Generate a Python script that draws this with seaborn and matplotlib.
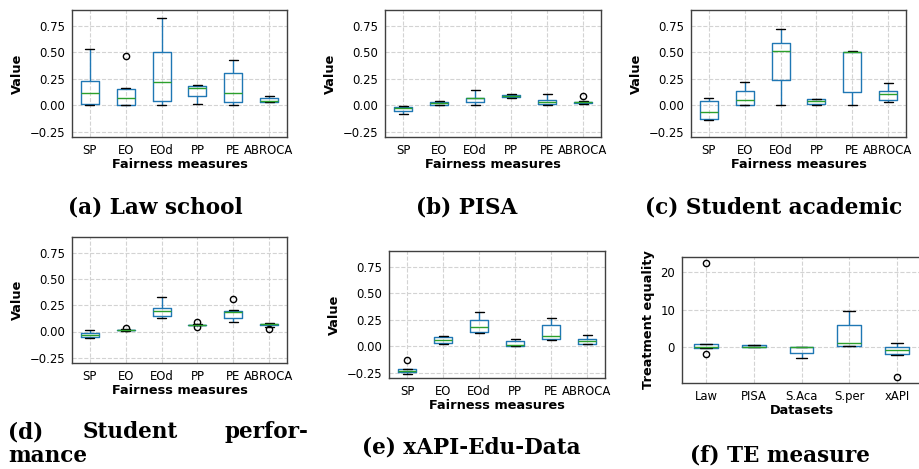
import pandas as pd
import matplotlib
matplotlib.use("Agg")
import matplotlib.pyplot as plt
import seaborn as sns

measures = ['SP', 'EO', 'EOd', 'PP', 'PE', 'ABROCA']
datasets = ['Law', 'PISA', 'S.Aca', 'S.per', 'xAPI']

law_lo = [0.0, 0.0, 0.0, 0.016, 0.0, 0.033]
law_q1 = [0.01, 0.006, 0.038, 0.09, 0.032, 0.034]
law_med = [0.12, 0.073, 0.217, 0.163, 0.12, 0.036]
law_q3 = [0.23, 0.15, 0.50, 0.185, 0.30, 0.07]
law_hi = [0.53, 0.16, 0.82, 0.195, 0.43, 0.086]
law_out = [[], [0.47], [], [], [], []]

pisa_lo = [-0.08, 0.0, 0.006, 0.07, 0.003, 0.008]
pisa_q1 = [-0.05, 0.006, 0.026, 0.077, 0.016, 0.022]
pisa_med = [-0.026, 0.02, 0.065, 0.086, 0.032, 0.029]
pisa_q3 = [-0.016, 0.032, 0.073, 0.10, 0.054, 0.032]
pisa_hi = [-0.003, 0.04, 0.14, 0.11, 0.108, 0.038]
pisa_out = [[], [], [], [], [], [0.09]]

saca_lo = [-0.137, 0.0, 0.0, 0.006, 0.0, 0.032]
saca_q1 = [-0.134, 0.003, 0.236, 0.013, 0.128, 0.048]
saca_med = [-0.064, 0.054, 0.51, 0.038, 0.505, 0.102]
saca_q3 = [0.042, 0.137, 0.588, 0.057, 0.505, 0.134]
saca_hi = [0.067, 0.217, 0.72, 0.06, 0.508, 0.207]
saca_out = [[], [], [], [], [], []]

sper_lo = [-0.063, 0.006, 0.126, 0.058, 0.095, 0.047]
sper_q1 = [-0.054, 0.01, 0.148, 0.06, 0.133, 0.06]
sper_med = [-0.032, 0.016, 0.2, 0.063, 0.19, 0.069]
sper_q3 = [-0.016, 0.019, 0.222, 0.066, 0.2, 0.076]
sper_hi = [0.013, 0.022, 0.325, 0.068, 0.205, 0.085]
sper_out = [[], [0.038], [], [0.044, 0.095], [0.31], [0.022]]

xapi_lo = [-0.266, 0.025, 0.123, 0.0, 0.057, 0.019]
xapi_q1 = [-0.247, 0.035, 0.139, 0.006, 0.073, 0.025]
xapi_med = [-0.231, 0.063, 0.18, 0.01, 0.1, 0.047]
xapi_q3 = [-0.218, 0.085, 0.25, 0.05, 0.205, 0.073]
xapi_hi = [-0.215, 0.095, 0.32, 0.07, 0.263, 0.108]
xapi_out = [[-0.13], [], [], [], [], []]

te_lo = [-0.1, 0.0, -2.9, 0.4, -1.9]
te_q1 = [-0.1, 0.0, -1.5, 0.45, -1.75]
te_med = [0.1, 0.2, 0.2, 1.2, -0.7]
te_q3 = [0.8, 0.6, 0.2, 6.05, 0.0]
te_hi = [0.9, 0.6, 0.2, 9.7, 1.05]
te_out = [[-1.85, 22.4], [], [], [], [-7.9]]


def to_frame(cats, lo, q1, med, q3, hi, out):
    # 9 points per box so the quartiles land exactly on q1 / med / q3
    rows = []
    for i, c in enumerate(cats):
        pts = [lo[i], lo[i], q1[i], med[i], med[i], med[i], q3[i], hi[i], hi[i]]
        for o in out[i]:
            if o < q1[i]:
                pts[0] = o
            else:
                pts[8] = o
        rows += [(c, p) for p in pts]
    return pd.DataFrame(rows, columns=['cat', 'val'])


sns.set_style('white')
plt.rcParams['font.family'] = ['DejaVu Sans']
plt.rcParams['text.color'] = 'black'
plt.rcParams['axes.labelcolor'] = 'black'
plt.rcParams['xtick.color'] = 'black'
plt.rcParams['ytick.color'] = 'black'

fig = plt.figure(figsize=(9.19, 4.69), dpi=100)
W, H = 919, 469


def box_ax(l, t, r, b):
    return fig.add_axes([l / W, 1 - b / H, (r - l) / W, (b - t) / H])


def draw(ax, df, cats, xlabel, ylabel, ylim, yticks):
    sns.boxplot(data=df, x='cat', y='val', order=cats, ax=ax, width=0.5,
                fill=False, color='#1f77b4', linewidth=1.0, whis=1.5,
                medianprops=dict(color='#2ca02c'),
                capprops=dict(color='black'),
                flierprops=dict(marker='o', markerfacecolor='none',
                                markeredgecolor='black', markersize=4.5))
    ax.set_ylim(*ylim)
    ax.set_yticks(yticks)
    ax.set_xlim(-0.5, len(cats) - 0.5)
    ax.set_xlabel(xlabel, fontsize=9.3, fontweight='bold', labelpad=1)
    ax.set_ylabel(ylabel, fontsize=9.3, fontweight='bold')
    ax.grid(True, linestyle='--', color='#d3d3d3', linewidth=0.8)
    ax.set_axisbelow(True)
    ax.tick_params(labelsize=8.4, length=3, width=0.8, pad=2)
    for s in ax.spines.values():
        s.set_color('#404040')
        s.set_linewidth(1.0)


val_lim = (-0.3, 0.9)
val_ticks = [-0.25, 0.0, 0.25, 0.5, 0.75]

panels = [
    ((72, 10, 287, 137), to_frame(measures, law_lo, law_q1, law_med, law_q3, law_hi, law_out)),
    ((385, 10, 601, 137), to_frame(measures, pisa_lo, pisa_q1, pisa_med, pisa_q3, pisa_hi, pisa_out)),
    ((691, 10, 906, 137), to_frame(measures, saca_lo, saca_q1, saca_med, saca_q3, saca_hi, saca_out)),
    ((72, 237, 287, 363), to_frame(measures, sper_lo, sper_q1, sper_med, sper_q3, sper_hi, sper_out)),
    ((389, 251, 605, 378), to_frame(measures, xapi_lo, xapi_q1, xapi_med, xapi_q3, xapi_hi, xapi_out)),
]
for pos, df in panels:
    ax = box_ax(*pos)
    draw(ax, df, measures, 'Fairness measures', 'Value', val_lim, val_ticks)
    ax.set_yticklabels(['\u22120.25', '0.00', '0.25', '0.50', '0.75'])

ax = box_ax(682, 257, 921, 383)
draw(ax, to_frame(datasets, te_lo, te_q1, te_med, te_q3, te_hi, te_out), datasets,
     'Datasets', 'Treatment equality', (-9.4, 23.9), [0, 10, 20])

cap = dict(fontsize=15.5, fontweight='bold', family='DejaVu Serif', va='center',
           color='black')
fig.text(155 / W, 1 - 207 / H, '(a) Law school', ha='center', **cap)
fig.text(467 / W, 1 - 207 / H, '(b) PISA', ha='center', **cap)
fig.text(774 / W, 1 - 207 / H, '(c) Student academic', ha='center', **cap)
fig.text(8 / W, 1 - 432 / H, '(d)', ha='left', **cap)
fig.text(130 / W, 1 - 432 / H, 'Student', ha='center', **cap)
fig.text(308 / W, 1 - 432 / H, 'perfor-', ha='right', **cap)
fig.text(8 / W, 1 - 456 / H, 'mance', ha='left', **cap)
fig.text(471 / W, 1 - 447 / H, '(e) xAPI-Edu-Data', ha='center', **cap)
fig.text(780 / W, 1 - 455 / H, '(f) TE measure', ha='center', **cap)

fig.savefig('out.png', dpi=100)
